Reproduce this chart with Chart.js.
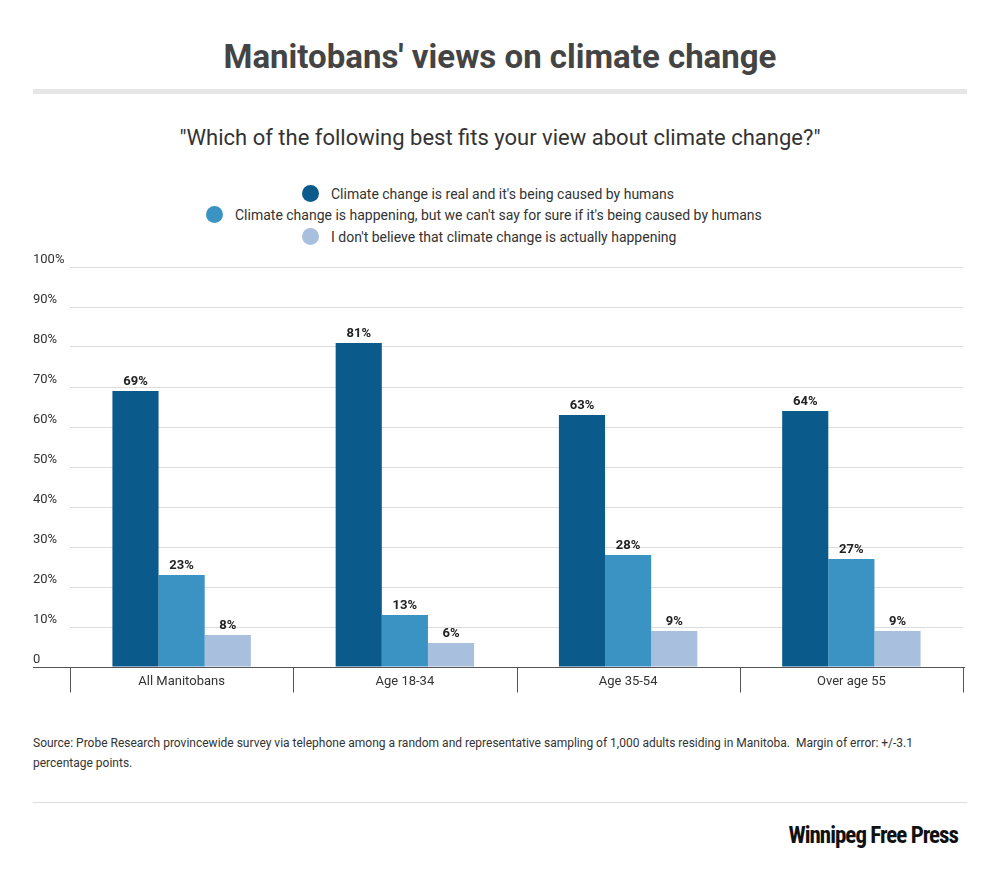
<!DOCTYPE html>
<html><head><meta charset="utf-8">
<script src="https://cdn.jsdelivr.net/npm/chart.js@4"></script>
<style>
body{margin:0;width:1000px;height:873px;background:#fff;font-family:Roboto,"Noto Sans",sans-serif;position:relative;overflow:hidden}
.t{position:absolute;left:0;width:1000px;text-align:center;color:#444}
#title{top:37px;font-size:33px;font-weight:700}
#rule{position:absolute;left:33px;width:934px;top:89px;height:5px;background:#e6e6e6}
#sub{top:125px;font-size:22px;color:#333}
.lg{position:absolute;font-size:14px;color:#333;white-space:nowrap}
.lg span{display:inline-block;width:17px;height:17px;border-radius:50%;vertical-align:-3px;margin-right:12px}
#src{position:absolute;left:33px;top:733px;width:930px;font-size:12px;line-height:20px;color:#333}
#rule2{position:absolute;left:33px;width:934px;top:802px;height:1px;background:#ddd}
#logo{position:absolute;right:42px;top:822px;font-size:23px;font-weight:700;color:#111;font-family:"Liberation Sans Narrow","Roboto Condensed",Roboto,sans-serif;letter-spacing:-1px}
#wrap{position:absolute;left:0;top:240px;width:1000px;height:470px}
</style></head><body>
<div class="t" id="title">Manitobans' views on climate change</div>
<div id="rule"></div>
<div class="t" id="sub">"Which of the following best fits your view about climate change?"</div>
<div id="legend"></div>
<div id="wrap"><canvas id="c"></canvas></div>
<div id="src">Source: Probe Research provincewide survey via telephone among a random and representative sampling of 1,000 adults residing in Manitoba.&nbsp; Margin of error: +/-3.1 percentage points.</div>
<div id="rule2"></div>
<div id="logo">Winnipeg Free Press</div>
<script>
const categories=["All Manitobans","Age 18-34","Age 35-54","Over age 55"];
const seriesNames=["Climate change is real and it's being caused by humans","Climate change is happening, but we can't say for sure if it's being caused by humans","I don't believe that climate change is actually happening"];
const humans=[69,81,63,64];
const unsure=[23,13,28,27];
const notHappening=[8,6,9,9];
const yTicks=[0,10,20,30,40,50,60,70,80,90,100];
const colors=["#0b5a8c","#3a93c3","#a8bfdd"];
const legendX=[302,206,302],legendY=[185,206,228];
const lg=document.getElementById('legend');
seriesNames.forEach((n,i)=>{const d=document.createElement('div');d.className='lg';d.style.left=legendX[i]+'px';d.style.top=legendY[i]+'px';d.innerHTML='<span style="background:'+colors[i]+'"></span>'+n;lg.appendChild(d);});
const extras={id:'extras',afterDraw(ch){const c=ch.ctx,y=ch.scales.y,x=ch.scales.x;c.save();
c.font='13px Roboto';c.fillStyle='#333';c.textAlign='left';c.textBaseline='alphabetic';
yTicks.forEach(v=>{c.fillText(v===0?'0':v+'%',33,y.getPixelForValue(v)-4);});
const y0=Math.round(y.getPixelForValue(0))+0.5;
c.strokeStyle='#555';c.lineWidth=1;c.beginPath();c.moveTo(33,y0);c.lineTo(965,y0);
const w=x.getPixelForValue(1)-x.getPixelForValue(0);
for(let i=0;i<=categories.length;i++){const px=Math.round(x.getPixelForValue(0)-w/2+i*w)+0.5;c.moveTo(px,y0);c.lineTo(px,y0+25);}
c.stroke();
c.textAlign='center';c.textBaseline='middle';
categories.forEach((l,i)=>c.fillText(l,x.getPixelForValue(i),y0+14));
c.font='bold 13px Roboto';c.fillStyle='#222';c.textBaseline='bottom';
ch.data.datasets.forEach((ds,i)=>{ch.getDatasetMeta(i).data.forEach((b,j)=>{c.fillText(ds.data[j]+'%',b.x,b.y-3);});});
c.restore();}};
new Chart(document.getElementById('c'),{type:'bar',
data:{labels:categories,datasets:[humans,unsure,notHappening].map((d,i)=>({label:seriesNames[i],data:d,backgroundColor:colors[i],categoryPercentage:0.62,barPercentage:1}))},
options:{responsive:true,maintainAspectRatio:false,animation:false,
layout:{padding:{left:70,right:37,top:27,bottom:43}},
plugins:{legend:{display:false},tooltip:{enabled:false}},
scales:{y:{min:0,max:100,ticks:{display:false,stepSize:10},grid:{color:'#dcdcdc',drawTicks:false},border:{display:false}},
x:{display:false}}},
plugins:[extras]});
</script></body></html>
